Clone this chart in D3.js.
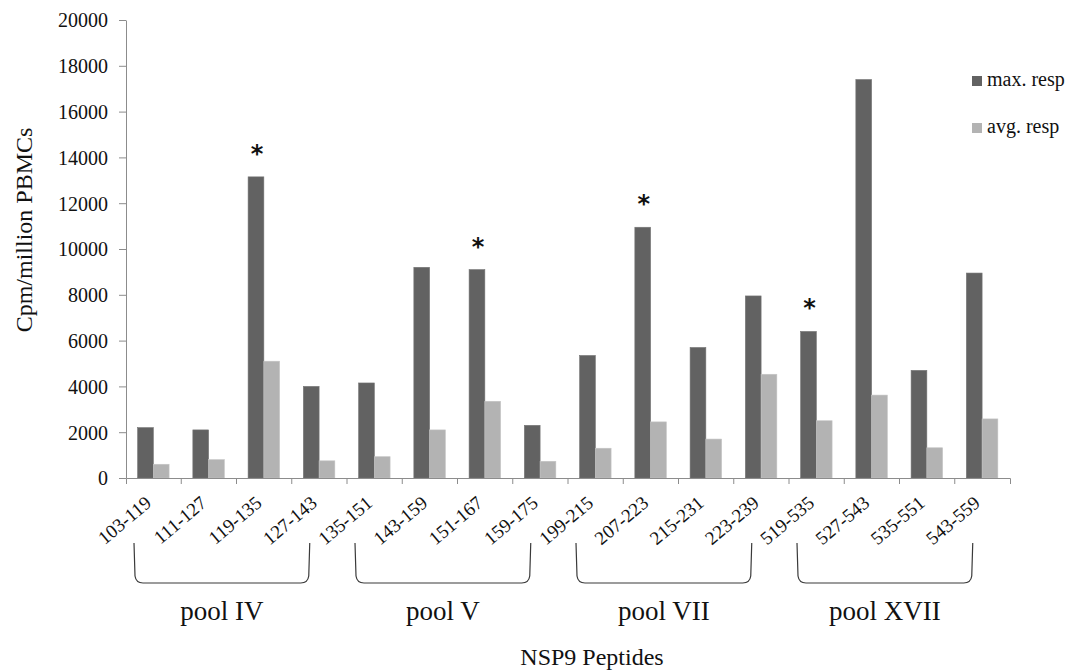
<!DOCTYPE html>
<html>
<head>
<meta charset="utf-8">
<script src="https://cdn.jsdelivr.net/npm/d3@7"></script>
<style>
    body { margin: 0; background: #fff; }
    svg { display: block; }
    text { font-family: 'Liberation Serif', 'Times New Roman', serif; fill: #111; }
</style>
</head>
<body>
<svg id="chart" width="1070" height="670"></svg>
<script>
// data

let peptides = [
    '103-119', '111-127', '119-135', '127-143',
    '135-151', '143-159', '151-167', '159-175',
    '199-215', '207-223', '215-231', '223-239',
    '519-535', '527-543', '535-551', '543-559',
];
let maxResp = [2200, 2100, 13150, 4000, 4150, 9200, 9100, 2300, 5350, 10950, 5700, 7950, 6400, 17400, 4700, 8950];
let avgResp = [600, 800, 5100, 750, 930, 2100, 3350, 730, 1300, 2450, 1700, 4530, 2500, 3620, 1320, 2580];
let seriesNames = ['max. resp', 'avg. resp'];
let yTicks = [0, 2000, 4000, 6000, 8000, 10000, 12000, 14000, 16000, 18000, 20000];
let starred = ['119-135', '151-167', '207-223', '519-535'];
let pools = ['pool IV', 'pool V', 'pool VII', 'pool XVII'];
let poolFirst = ['103-119', '135-151', '199-215', '519-535'];
let poolLast = ['127-143', '159-175', '223-239', '543-559'];

// setup

let colors = ['#626262', '#b3b3b3'];
let axisColor = '#8c8c8c';

let svg = d3.select('#chart');

let x = d3.scaleBand()
    .domain(peptides)
    .range([126, 1010]);

let y = d3.scaleLinear()
    .domain([0, 20000])
    .range([478, 20]);

let xSub = d3.scaleBand()
    .domain(seriesNames)
    .range([x.bandwidth() * 0.21, x.bandwidth() * 0.78]);

let rows = peptides.map((p, i) => ({ peptide: p, values: [maxResp[i], avgResp[i]] }));

// y axis

let yAxis = svg.append('g')
    .attr('transform', 'translate(126,0)')
    .call(d3.axisLeft(y).tickValues(yTicks).tickSize(7).tickSizeOuter(0).tickPadding(11).tickFormat(d3.format('d')));

yAxis.selectAll('line, path').attr('stroke', axisColor);
yAxis.selectAll('text')
    .attr('dy', '0.34em')
    .attr('fill', '#111')
    .style('font-size', '20px')
    .style('font-family', null);

// bars

let groups = svg.selectAll('.grp')
    .data(rows)
    .enter()
    .append('g')
    .classed('grp', 1)
    .attr('transform', (d) => `translate(${x(d.peptide)},0)`);

groups.selectAll('rect')
    .data((d) => d.values.map((v, i) => ({ key: seriesNames[i], v: v, i: i })))
    .enter()
    .append('rect')
    .attr('x', (d) => xSub(d.key))
    .attr('y', (d) => y(d.v))
    .attr('width', xSub.bandwidth())
    .attr('height', (d) => y(0) - y(d.v))
    .attr('fill', (d) => colors[d.i])
    .attr('stroke', (d) => d.i ? '#c4c4c4' : '#747474')
    .attr('stroke-width', 0.6);

// x axis, ticks sit between the categories

let xAxis = svg.append('g')
    .attr('transform', 'translate(0,478)')
    .call(d3.axisBottom(x).tickSize(0).tickSizeOuter(6).tickFormat(''));

xAxis.selectAll('path').attr('stroke', axisColor);

xAxis.selectAll('.sep')
    .data(peptides.slice(1))
    .enter()
    .append('line')
    .classed('sep', 1)
    .attr('x1', (d) => x(d))
    .attr('x2', (d) => x(d))
    .attr('y1', 0)
    .attr('y2', 6)
    .attr('stroke', axisColor);

svg.selectAll('.xlab')
    .data(peptides)
    .enter()
    .append('text')
    .classed('xlab', 1)
    .attr('text-anchor', 'end')
    .attr('transform', (d) => `translate(${x(d) + x.bandwidth() / 2 - 1},505) rotate(-40)`)
    .style('font-size', '19px')
    .text((d) => d);

// stars

svg.selectAll('.star')
    .data(starred)
    .enter()
    .append('text')
    .classed('star', 1)
    .attr('text-anchor', 'middle')
    .attr('x', (d) => x(d) + xSub(seriesNames[0]) + xSub.bandwidth() / 2 + 1)
    .attr('y', (d) => y(maxResp[peptides.indexOf(d)]) - 15)
    .style('font-family', "'DejaVu Sans', sans-serif")
    .style('font-weight', 'bold')
    .style('font-size', '24px')
    .text('*');

// pool brackets

pools.forEach((name, i) => {
    let left = x(poolFirst[i]) + 8;
    let right = x(poolLast[i]) + 18;
    let top = 543, bottom = 583;

    svg.append('path')
        .attr('d', `M${left},${top} L${left + 1},${bottom - 7} Q${left + 2},${bottom} ${left + 9},${bottom}`
            + ` L${right - 9},${bottom} Q${right - 2},${bottom} ${right - 1},${bottom - 7} L${right},${top}`)
        .attr('fill', 'none')
        .attr('stroke', '#3a3a3a')
        .attr('stroke-width', 1.2);

    svg.append('text')
        .attr('text-anchor', 'middle')
        .attr('x', (left + right) / 2)
        .attr('y', 620)
        .style('font-size', '27px')
        .text(name);
});

// axis titles

svg.append('text')
    .attr('text-anchor', 'middle')
    .attr('x', 592)
    .attr('y', 665)
    .style('font-size', '24px')
    .text('NSP9 Peptides');

svg.append('text')
    .attr('text-anchor', 'middle')
    .attr('transform', 'translate(32,230) rotate(-90)')
    .style('font-size', '24px')
    .text('Cpm/million PBMCs');

// legend

let legend = svg.selectAll('.legend')
    .data(seriesNames)
    .enter()
    .append('g')
    .classed('legend', 1)
    .attr('transform', (d, i) => `translate(972,${76 + i * 47})`);

legend.append('rect')
    .attr('width', 10)
    .attr('height', 10)
    .attr('fill', (d, i) => colors[i]);

legend.append('text')
    .attr('x', 15)
    .attr('y', 10)
    .style('font-size', '20px')
    .text((d) => d);
</script>
</body>
</html>
